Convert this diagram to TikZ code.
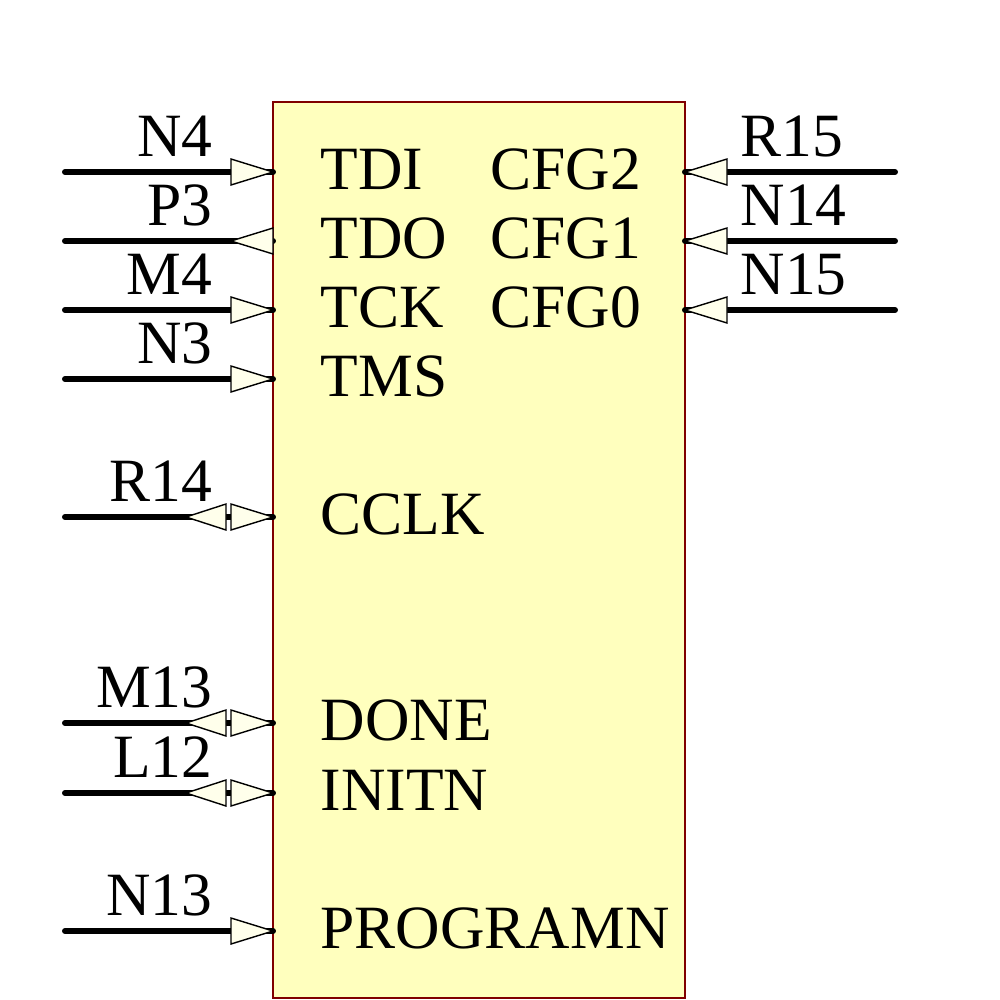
\documentclass[tikz,border=0pt]{standalone}
\usepackage{fontspec}
\setmainfont{Liberation Serif}
\usepackage{tikz}
\definecolor{chipfill}{RGB}{255,255,190}
\definecolor{chipedge}{RGB}{128,0,0}
\definecolor{tipfill}{RGB}{255,255,235}
\begin{document}
\begin{tikzpicture}[x=0.01cm,y=-0.01cm,
    wire/.style={line width=1.7pt,line cap=round},
    tri/.style={fill=tipfill,draw=black,line width=0.4pt},
    pin/.style={anchor=base west,inner sep=0pt,font=\fontsize{17.5}{17.5}\selectfont},
    net/.style={inner sep=0pt,font=\fontsize{17.5}{17.5}\selectfont}]
          \useasboundingbox (0,0) rectangle (1000,1000);
          \filldraw[fill=chipfill, draw=chipedge] (273,102) rectangle (685,998);
          % left pins: y / net / pin / kind (0 in, 1 out, 2 bidir)
          \foreach \y/\net/\pname/\kind in {172/N4/TDI/0, 241/P3/TDO/1, 310/M4/TCK/0,
              379/N3/TMS/0, 517/R14/CCLK/2, 723/M13/DONE/2, 793/L12/INITN/2, 931/N13/PROGRAMN/0}
          {
          \coordinate (l\pname) at (65,\y);
          \coordinate (p\pname) at (273,\y);
          \draw[wire] (l\pname) -- (p\pname);
          \node[net, anchor=base east] (n\pname) at (213,\y-16) {\net};
          \node[pin] (t\pname) at (320,\y+17) {\pname};
          \ifcase\kind
            \filldraw[tri] (231,\y-13) -- (273,\y) -- (231,\y+13) -- cycle;
          \or
            \filldraw[tri] (273,\y-13) -- (231,\y) -- (273,\y+13) -- cycle;
          \or
            \filldraw[tri] (231,\y-13) -- (273,\y) -- (231,\y+13) -- cycle;
            \filldraw[tri] (226,\y-13) -- (186,\y) -- (226,\y+13) -- cycle;
          \fi
          }
          % right pins
          \foreach \y/\net/\pname in {172/R15/CFG2, 241/N14/CFG1, 310/N15/CFG0}
          {
          \coordinate (r\pname) at (895,\y);
          \coordinate (p\pname) at (685,\y);
          \draw[wire] (p\pname) -- (r\pname);
          \node[net, anchor=base west] (n\pname) at (740,\y-16) {\net};
          \node[pin] (t\pname) at (490,\y+17) {\pname};
          \filldraw[tri] (727,\y-13) -- (685,\y) -- (727,\y+13) -- cycle;
          }
\end{tikzpicture}
\end{document}
